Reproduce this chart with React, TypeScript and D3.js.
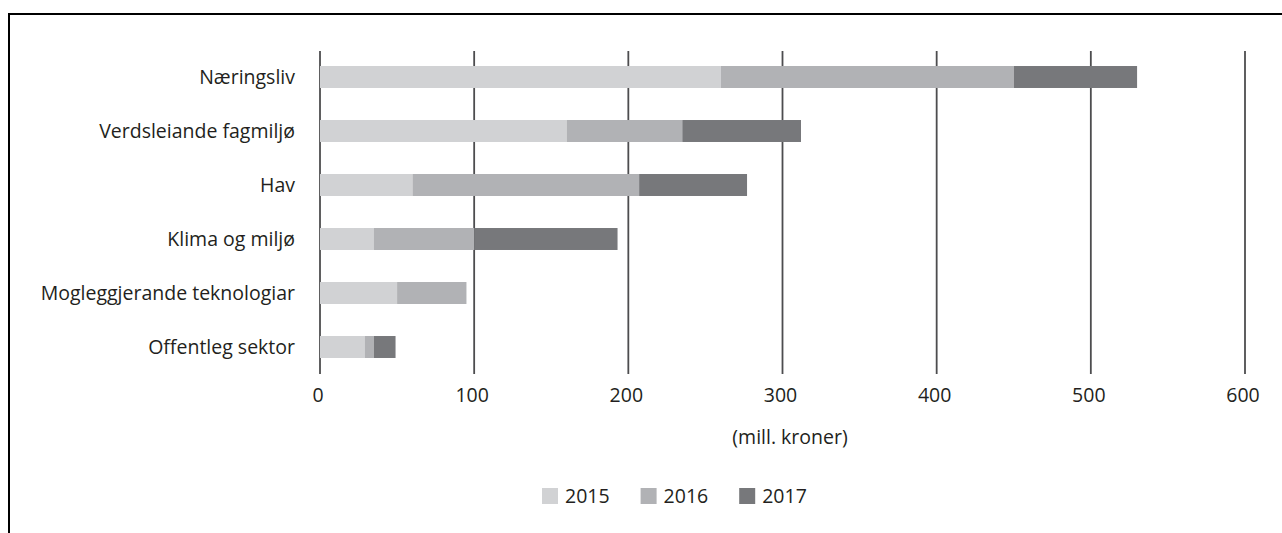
import React, { useRef, useEffect } from 'react';
import * as d3 from 'd3';

// Chart data (mill. kroner)
const categories = [
    'Næringsliv',
    'Verdsleiande fagmiljø',
    'Hav',
    'Klima og miljø',
    'Mogleggjerande teknologiar',
    'Offentleg sektor',
];
const years = ['2015', '2016', '2017'];
const values2015 = [260, 160, 60, 35, 50, 29];
const values2016 = [190, 75, 147, 65, 45, 6];
const values2017 = [80, 77, 70, 93, 0, 14];
const xTicks = [0, 100, 200, 300, 400, 500, 600];
const axisTitle = '(mill. kroner)';

const colors = ['#d1d2d4', '#b1b2b5', '#77787b'];

interface Row {
    category: string;
    [year: string]: number | string;
}

const App: React.FC = () => {
    const svgRef = useRef<SVGSVGElement | null>(null);

    useEffect(() => {
        if (!svgRef.current) return;
        const svg = d3.select(svgRef.current);
        svg.selectAll('*').remove();

        const font = '"Open Sans", sans-serif';
        const fontSize = '19.5px';
        const textColor = '#231f20';

        const rows: Row[] = categories.map((c, i) => ({
            category: c,
            '2015': values2015[i],
            '2016': values2016[i],
            '2017': values2017[i],
        }));

        const x = d3.scaleLinear().domain([0, 600]).range([320, 1245]);
        const y = d3.scaleBand<string>()
            .domain(categories)
            .range([50, 374])
            .paddingInner(0.593)
            .paddingOuter(0.2965);

        // outer frame (only top + left edges visible in the window)
        svg.append('rect')
            .attr('x', 9)
            .attr('y', 14)
            .attr('width', 1400)
            .attr('height', 700)
            .attr('fill', 'none')
            .attr('stroke', '#000')
            .attr('stroke-width', 2);

        // vertical grid lines
        svg.append('g')
            .selectAll('line')
            .data(xTicks)
            .enter()
            .append('line')
            .attr('x1', d => x(d))
            .attr('x2', d => x(d))
            .attr('y1', 51)
            .attr('y2', 374)
            .attr('stroke', '#4d4d4f')
            .attr('stroke-width', 1.8);

        // stacked bars
        const stacked = d3.stack<Row>().keys(years)(rows as any);
        svg.append('g')
            .selectAll('g')
            .data(stacked)
            .enter()
            .append('g')
            .attr('fill', (_d, i) => colors[i])
            .selectAll('rect')
            .data(d => d)
            .enter()
            .append('rect')
            .attr('x', d => x(d[0]))
            .attr('y', d => y((d.data as Row).category) as number)
            .attr('width', d => x(d[1]) - x(d[0]))
            .attr('height', y.bandwidth());

        // category labels
        svg.append('g')
            .selectAll('text')
            .data(categories)
            .enter()
            .append('text')
            .attr('x', 295)
            .attr('y', d => (y(d) as number) + y.bandwidth() / 2)
            .attr('dy', '0.36em')
            .attr('text-anchor', 'end')
            .style('font-family', font)
            .style('font-size', fontSize)
            .style('fill', textColor)
            .text(d => d);

        // x tick labels
        svg.append('g')
            .selectAll('text')
            .data(xTicks)
            .enter()
            .append('text')
            .attr('x', d => x(d) - 2)
            .attr('y', 395)
            .attr('dy', '0.36em')
            .attr('text-anchor', 'middle')
            .style('font-family', font)
            .style('font-size', fontSize)
            .style('fill', textColor)
            .text(d => String(d));

        // axis title
        svg.append('text')
            .attr('x', 790)
            .attr('y', 437)
            .attr('dy', '0.36em')
            .attr('text-anchor', 'middle')
            .style('font-family', font)
            .style('font-size', fontSize)
            .style('fill', textColor)
            .text(axisTitle);

        // legend
        const legend = svg.append('g')
            .selectAll('g')
            .data(years)
            .enter()
            .append('g')
            .attr('transform', (_d, i) => `translate(${542 + i * 98.6},488)`);

        legend.append('rect')
            .attr('width', 16)
            .attr('height', 16)
            .attr('fill', (_d, i) => colors[i]);

        legend.append('text')
            .attr('x', 23)
            .attr('y', 8)
            .attr('dy', '0.36em')
            .style('font-family', font)
            .style('font-size', fontSize)
            .style('fill', textColor)
            .text(d => d);
    }, []);

    return (
        <svg
            ref={svgRef}
            width={1282}
            height={533}
            style={{ position: 'absolute', left: 0, top: 0, background: '#fff' }}
        />
    );
};

export default App;
